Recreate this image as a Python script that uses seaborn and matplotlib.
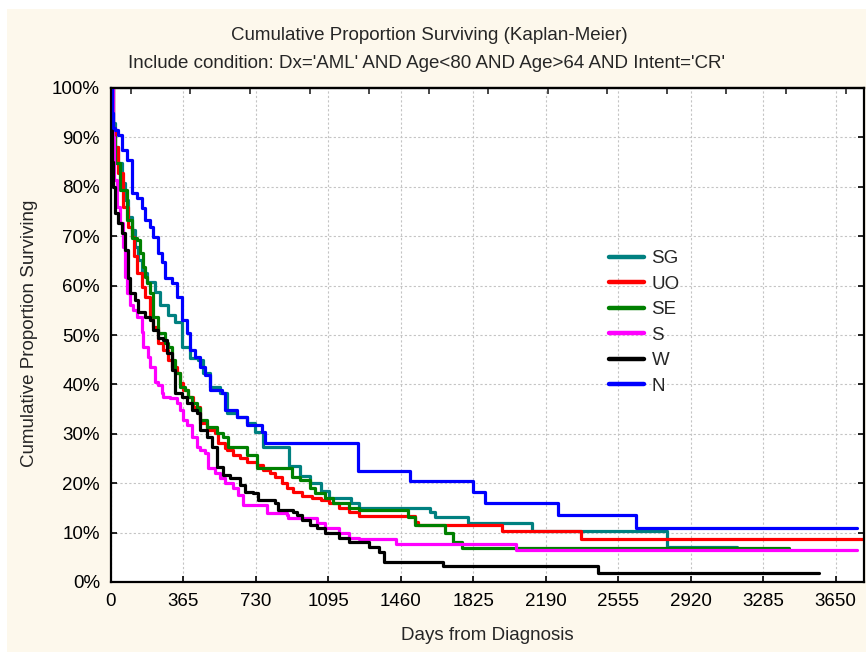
import numpy as np
import pandas as pd
import matplotlib
matplotlib.use("Agg")
import matplotlib.pyplot as plt
import seaborn as sns
from matplotlib.patches import Rectangle
from matplotlib.ticker import PercentFormatter

# ---- data (days from diagnosis, cumulative proportion surviving) ----
groups = ["SG", "UO", "SE", "S", "W", "N"]
colors = ["#008080", "#FF0000", "#008000", "#FF00FF", "#000000", "#0000FF"]

sg_days = [0, 8, 20, 35, 55, 70, 85, 105, 120, 135, 155, 181, 221, 246, 287, 322, 357, 397, 437, 463, 498, 548, 583, 634, 684, 724, 765,
           895, 950, 1000, 1060, 1100, 1210, 1250, 1605, 1630, 1796, 2123, 2802, 3155]
sg_surv = [1.0, 0.93, 0.88, 0.848, 0.808, 0.773, 0.739, 0.713, 0.678, 0.652, 0.625, 0.607, 0.587, 0.561, 0.540, 0.526, 0.476, 0.453, 0.449, 0.423, 0.395, 0.383, 0.342, 0.334, 0.322, 0.304, 0.273,
           0.235, 0.215, 0.200, 0.185, 0.170, 0.160, 0.150, 0.142, 0.132, 0.119, 0.103, 0.071, 0.071]

uo_days = [0, 10, 20, 35, 60, 85, 105, 118, 131, 156, 171, 196, 211, 236, 262, 287, 307, 332, 347, 362, 387, 412, 448, 483, 523, 538, 573, 583, 614, 649, 684, 734, 765, 800, 825, 860, 885, 915,
           960, 1010, 1060, 1100, 1150, 1200, 1250, 1529, 1544, 1972, 2369, 3798]
uo_surv = [1.0, 0.92, 0.88, 0.828, 0.759, 0.719, 0.698, 0.660, 0.625, 0.597, 0.577, 0.536, 0.516, 0.484, 0.470, 0.449, 0.435, 0.423, 0.403, 0.389, 0.374, 0.354, 0.322, 0.308, 0.302, 0.281, 0.271, 0.267, 0.257, 0.251, 0.243, 0.237, 0.227, 0.221, 0.213, 0.200, 0.190, 0.182,
           0.175, 0.170, 0.165, 0.160, 0.150, 0.142, 0.134, 0.121, 0.115, 0.103, 0.087, 0.087]

se_days = [0, 10, 20, 45, 80, 105, 131, 146, 161, 171, 181, 196, 211, 236, 272, 287, 307, 322, 347, 372, 387, 407, 433, 448, 483, 533, 563, 589, 684, 734, 910, 951,
           1000, 1030, 1080, 1120, 1200, 1250, 1494, 1529, 1680, 1725, 1766, 3415]
se_surv = [1.0, 0.90, 0.848, 0.793, 0.733, 0.696, 0.692, 0.666, 0.638, 0.617, 0.605, 0.585, 0.536, 0.504, 0.484, 0.476, 0.449, 0.423, 0.395, 0.389, 0.374, 0.362, 0.352, 0.328, 0.314, 0.302, 0.294, 0.273, 0.257, 0.231, 0.213, 0.206,
           0.190, 0.180, 0.170, 0.160, 0.150, 0.146, 0.132, 0.115, 0.099, 0.081, 0.068, 0.068]

s_days = [0, 8, 15, 30, 45, 60, 70, 80, 95, 111, 131, 156, 161, 186, 196, 221, 236, 256, 261, 297, 332, 347, 362, 382, 407, 433, 448, 473, 488, 523, 548, 573, 614, 639, 664, 785, 885, 890,
          1040, 1080, 1150, 1200, 1250, 1434, 2042, 3758]
s_surv = [1.0, 0.90, 0.814, 0.759, 0.727, 0.678, 0.617, 0.585, 0.561, 0.551, 0.536, 0.506, 0.476, 0.455, 0.435, 0.405, 0.399, 0.383, 0.374, 0.372, 0.362, 0.348, 0.328, 0.318, 0.293, 0.273, 0.267, 0.261, 0.231, 0.221, 0.211, 0.200, 0.190, 0.176, 0.156, 0.140, 0.136, 0.130,
          0.120, 0.110, 0.100, 0.090, 0.087, 0.077, 0.065, 0.065]

w_days = [0, 5, 10, 20, 35, 55, 70, 85, 96, 121, 136, 171, 196, 211, 236, 262, 282, 307, 322, 357, 382, 407, 433, 448, 483, 508, 533, 563, 599, 649, 674, 714, 739, 825, 840, 915, 935,
          960, 1000, 1040, 1080, 1150, 1200, 1300, 1350, 1373, 1670, 2455, 3566]
w_surv = [1.0, 0.85, 0.80, 0.747, 0.727, 0.706, 0.672, 0.615, 0.585, 0.571, 0.547, 0.536, 0.530, 0.510, 0.494, 0.490, 0.464, 0.429, 0.383, 0.374, 0.362, 0.348, 0.342, 0.308, 0.294, 0.273, 0.233, 0.217, 0.211, 0.196, 0.182, 0.180, 0.166, 0.160, 0.146, 0.142, 0.136,
          0.125, 0.115, 0.110, 0.100, 0.090, 0.080, 0.070, 0.061, 0.040, 0.032, 0.018, 0.018]

n_days = [0, 5, 12, 20, 35, 55, 80, 105, 130, 155, 170, 196, 211, 237, 256, 271, 306, 331, 357, 382, 397, 422, 447, 473, 498, 558, 573, 634, 684, 760, 775, 1245, 1504, 1821, 1886, 2254, 2646, 3758]
n_surv = [1.0, 0.95, 0.92, 0.915, 0.905, 0.874, 0.854, 0.787, 0.777, 0.757, 0.733, 0.719, 0.698, 0.666, 0.648, 0.615, 0.605, 0.577, 0.530, 0.504, 0.470, 0.455, 0.435, 0.419, 0.389, 0.383, 0.348, 0.334, 0.318, 0.304, 0.281, 0.225, 0.204, 0.182, 0.160, 0.136, 0.109, 0.109]

x_ticks = [0, 365, 730, 1095, 1460, 1825, 2190, 2555, 2920, 3285, 3650]
top_ticks = [100, 400, 700, 1000, 1300, 1600, 1900, 2200, 2500, 2800, 3100, 3400, 3700]
y_ticks = [0.0, 0.1, 0.2, 0.3, 0.4, 0.5, 0.6, 0.7, 0.8, 0.9, 1.0]

title1 = "Cumulative Proportion Surviving (Kaplan-Meier)"
title2 = "Include condition: Dx='AML' AND Age<80 AND Age>64 AND Intent='CR'"

# ---- build table ----
series = {"SG": (sg_days, sg_surv), "UO": (uo_days, uo_surv), "SE": (se_days, se_surv),
          "S": (s_days, s_surv), "W": (w_days, w_surv), "N": (n_days, n_surv)}
frames = []
for g in groups:
    d, s = series[g]
    frames.append(pd.DataFrame({"group": g, "day": d, "surv": s}))
df = pd.concat(frames, ignore_index=True)

# ---- figure ----
W, H = 866, 652
sns.set_style("white")
plt.rcParams["font.family"] = ["Liberation Sans", "DejaVu Sans"]
FS = 13.5

fig = plt.figure(figsize=(W / 100, H / 100), dpi=100, facecolor="white")
fig.patches.append(Rectangle((7 / W, 0), 1 - 7 / W, 1 - 9 / H, transform=fig.transFigure,
                             facecolor="#FDF8EC", edgecolor="none", zorder=-10))

ax = fig.add_axes([111 / W, (H - 582) / H, (864 - 111) / W, (582 - 88) / H])
ax.set_facecolor("white")

sns.lineplot(data=df, x="day", y="surv", hue="group", hue_order=groups,
             palette=dict(zip(groups, colors)), drawstyle="steps-post",
             estimator=None, sort=False, linewidth=2.3, ax=ax)

ax.set_xlim(0, 3793)
ax.set_ylim(0, 1)
ax.set_xticks(x_ticks)
ax.set_yticks(y_ticks)
ax.yaxis.set_major_formatter(PercentFormatter(1.0, decimals=0))
ax.grid(True, color="#C4C4C4", linestyle=(0, (2, 2)), linewidth=0.8)
ax.set_axisbelow(True)
for sp in ax.spines.values():
    sp.set_color("black")
    sp.set_linewidth(1.6)
ax.tick_params(axis="both", direction="in", length=4, width=1.2, labelsize=FS, pad=8,
               left=True, bottom=True, right=True, top=False, colors="black")

sec = ax.secondary_xaxis("top")
sec.set_xticks(top_ticks)
sec.tick_params(direction="in", length=4, width=1.2, labeltop=False)
sec.spines["top"].set_linewidth(1.6)

ax.set_xlabel("")
ax.set_ylabel("")
fig.text(487 / W, 1 - 636 / H, "Days from Diagnosis", ha="center", va="center", fontsize=FS)
fig.text(30 / W, 1 - 333 / H, "Cumulative Proportion Surviving", ha="center", va="center",
         rotation=90, fontsize=FS)
fig.text(429 / W, 1 - 35 / H, title1, ha="center", va="center", fontsize=FS)
fig.text(427 / W, 1 - 63 / H, title2, ha="center", va="center", fontsize=FS)

# legend
lx = (609 - 111) / (864 - 111)
ly = (582 - 250) / (582 - 88)
sns.move_legend(ax, loc="upper left", bbox_to_anchor=(lx, ly), frameon=False, title=None,
                fontsize=FS, handlelength=1.85, handletextpad=0.42, labelspacing=0.45,
                borderpad=0, borderaxespad=0)
leg = ax.get_legend()
for h in leg.legend_handles:
    h.set_linewidth(3.2)

fig.savefig("out.png", dpi=100, facecolor="white")
